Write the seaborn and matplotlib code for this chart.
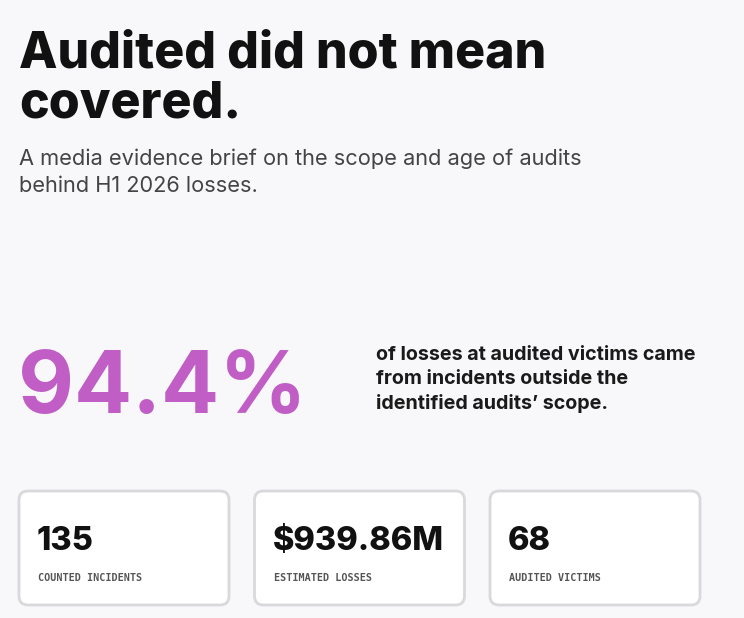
import matplotlib
matplotlib.use("Agg")
import matplotlib.pyplot as plt
from matplotlib.patches import FancyBboxPatch
import seaborn as sns

# ---- data ----
title_lines = ["Audited did not mean", "covered."]
subtitle_lines = ["A media evidence brief on the scope and age of audits",
                  "behind H1 2026 losses."]
headline_value = "94.4%"
headline_text = ["of losses at audited victims came",
                 "from incidents outside the",
                 "identified audits\u2019 scope."]
stat_values = ["135", "$939.86M", "68"]
stat_labels = ["COUNTED INCIDENTS", "ESTIMATED LOSSES", "AUDITED VICTIMS"]

BG = "#F8F8FA"
PURPLE = "#C05EC6"
INK = "#111111"

sns.set_theme(style="white", rc={"figure.facecolor": BG, "axes.facecolor": BG})
plt.rcParams["font.family"] = ["Inter", "DejaVu Sans"]

W, H = 744, 618
fig = plt.figure(figsize=(W / 100, H / 100), dpi=100)
ax = fig.add_axes([0, 0, 1, 1])
ax.set_xlim(0, W)
ax.set_ylim(H, 0)
ax.axis("off")

# title
for i, line in enumerate(title_lines):
    ax.text(19, 68 + i * 49, line, fontsize=36, fontweight="heavy",
            color=INK, va="baseline", ha="left")
# subtitle
for i, line in enumerate(subtitle_lines):
    ax.text(19, 165 + i * 27, line, fontsize=15.7, color="#444444",
            va="baseline", ha="left")

# headline
ax.text(18, 413, headline_value, fontsize=62, fontweight="bold",
        color=PURPLE, va="baseline", ha="left")
for i, line in enumerate(headline_text):
    ax.text(376, 360 + i * 24.5, line, fontsize=14.2, fontweight="bold",
            color="#1a1a1a", va="baseline", ha="left")

# cards
card_w, card_h, gap = 210, 114, 25.5
x0, y0 = 19, 491
for i, (v, lab) in enumerate(zip(stat_values, stat_labels)):
    cx = x0 + i * (card_w + gap)
    box = FancyBboxPatch((cx, y0), card_w, card_h,
                         boxstyle="round,pad=0,rounding_size=9",
                         facecolor="white", edgecolor="#D8D8DD", linewidth=2)
    ax.add_patch(box)
    ax.text(cx + 18, 550, v, fontsize=23.5, fontweight="heavy", color=INK,
            va="baseline", ha="left")
    ax.text(cx + 19, 581, lab, fontsize=7.3, fontweight="bold",
            family=["DejaVu Sans Mono"], color="#555555",
            va="baseline", ha="left")

fig.savefig("out.png", dpi=100, facecolor=BG)
